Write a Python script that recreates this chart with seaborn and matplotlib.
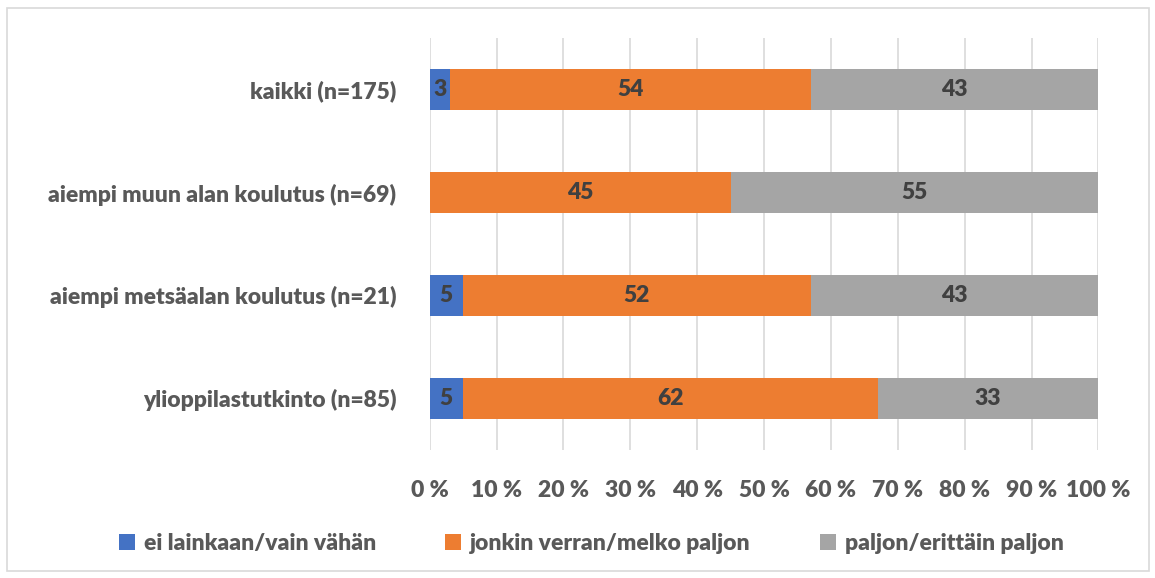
import matplotlib
matplotlib.use("Agg")
import matplotlib.pyplot as plt
from matplotlib.patches import Rectangle, Patch
from matplotlib.ticker import FuncFormatter
import seaborn as sns
import pandas as pd
import numpy as np

# Data
categories = ["kaikki (n=175)", "aiempi muun alan koulutus (n=69)",
              "aiempi metsäalan koulutus (n=21)", "ylioppilastutkinto (n=85)"]
series = ["ei lainkaan/vain vähän", "jonkin verran/melko paljon", "paljon/erittäin paljon"]
ei_lainkaan = [3, 0, 5, 5]
jonkin_verran = [54, 45, 52, 62]
paljon = [43, 55, 43, 33]
colors = ["#4472C4", "#ED7D31", "#A5A5A5"]
text_col = "#595959"
label_col = "#404040"

sns.set_theme(style="white")
plt.rcParams['font.family'] = ['Lato', 'DejaVu Sans']
wt = "heavy"
plt.rcParams['font.weight'] = wt
fs = 16.5

values = np.array([ei_lainkaan, jonkin_verran, paljon], dtype=float)
cum = values.cumsum(axis=0)
starts = cum - values

fig = plt.figure(figsize=(11.55, 5.78), dpi=100)
ax = fig.add_axes([0.372, 0.222, 0.579, 0.712])

# draw widest (cumulative) layer first so narrower ones sit on top
for i in reversed(range(3)):
    df = pd.DataFrame({"kategoria": categories, "arvo": cum[i]})
    sns.barplot(data=df, x="arvo", y="kategoria", orient="h", color=colors[i],
                width=0.4, saturation=1, ax=ax, zorder=2, linewidth=0)

# segment labels
for i in range(3):
    for j, cat in enumerate(categories):
        v = values[i, j]
        if v <= 0:
            continue
        ax.text(starts[i, j] + v / 2, j, f"{int(v)}", ha="center", va="center",
                fontsize=fs, fontweight=wt, color=label_col, zorder=3)

ax.set_xlim(0, 100)
ax.set_ylim(3.5, -0.5)
ax.set_xticks(np.arange(0, 101, 10))
ax.xaxis.set_major_formatter(FuncFormatter(lambda x, p: f"{int(x)} %"))
ax.grid(axis="x", color="#D9D9D9", linewidth=1.2, zorder=0)
ax.grid(axis="y", visible=False)
for s in ax.spines.values():
    s.set_visible(False)
ax.set_xlabel("")
ax.set_ylabel("")
ax.tick_params(axis="x", length=0, pad=22, labelsize=fs, labelcolor=text_col)
ax.tick_params(axis="y", length=0, pad=24, labelsize=fs, labelcolor=text_col)
for lab in ax.get_xticklabels() + ax.get_yticklabels():
    lab.set_fontweight(wt)

handles = [Patch(facecolor=c, edgecolor="none") for c in colors]
fig.legend(handles, series, loc="center", bbox_to_anchor=(0.512, 0.06), ncol=3,
           frameon=False, handlelength=0.7, handleheight=0.7,
           handletextpad=0.4, columnspacing=3.0, labelcolor=text_col,
           prop={"weight": wt, "size": fs})

# outer chart border
fig.patches.append(Rectangle((0.006, 0.012), 0.989, 0.974, transform=fig.transFigure,
                             fill=False, edgecolor="#D9D9D9", linewidth=1.2))

fig.savefig("out.png", dpi=100)
